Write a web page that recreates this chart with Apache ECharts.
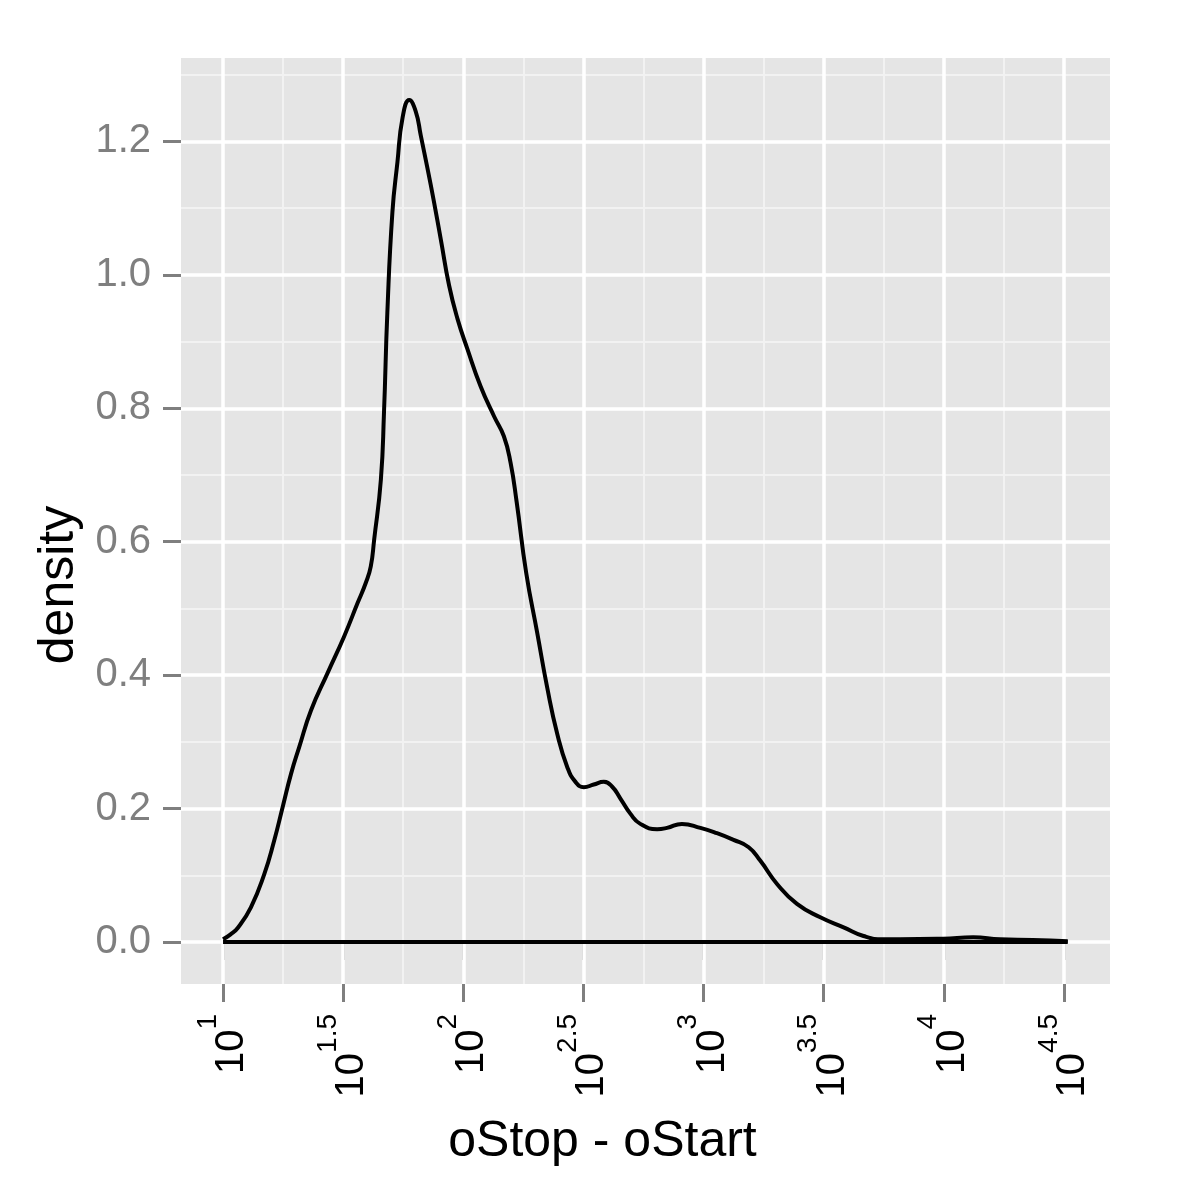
<!DOCTYPE html>
<html>
<head>
<meta charset="utf-8">
<title>density of oStop - oStart</title>
<script src="https://cdn.jsdelivr.net/npm/echarts@6/dist/echarts.min.js"></script>
<style>
  html, body { margin: 0; padding: 0; background: #fff; }
  #chart { width: 1200px; height: 1200px; }
</style>
</head>
<body>
<div id="chart"></div>
<script>
// log10(oStop - oStart) and the density
const logLength = [
  1.000, 1.030, 1.061, 1.116, 1.172, 1.213, 1.248, 1.283, 1.317, 1.366,
  1.435, 1.504, 1.560, 1.594, 1.615, 1.629, 1.657, 1.670, 1.684, 1.705,
  1.726, 1.747, 1.775, 1.802, 1.823, 1.865, 1.906, 1.941, 1.976, 2.017,
  2.072, 2.128, 2.169, 2.197, 2.222, 2.262, 2.308, 2.349, 2.391, 2.433,
  2.467, 2.502, 2.543, 2.585, 2.619, 2.654, 2.696, 2.737, 2.807, 2.848,
  2.910, 2.987, 3.056, 3.125, 3.188, 3.236, 3.306, 3.389, 3.486, 3.583,
  3.666, 3.748, 3.818, 3.998, 4.123, 4.234, 4.371, 4.516
]
const density = [
  0.004, 0.011, 0.021, 0.052, 0.102, 0.152, 0.202, 0.252, 0.292, 0.347,
  0.403, 0.458, 0.508, 0.538, 0.563, 0.603, 0.693, 0.794, 0.944, 1.094,
  1.169, 1.235, 1.262, 1.245, 1.209, 1.134, 1.054, 0.984, 0.934, 0.889,
  0.833, 0.788, 0.758, 0.718, 0.660, 0.553, 0.463, 0.382, 0.312, 0.262,
  0.240, 0.232, 0.236, 0.240, 0.233, 0.215, 0.192, 0.177, 0.169, 0.171,
  0.177, 0.171, 0.163, 0.153, 0.142, 0.122, 0.087, 0.057, 0.037, 0.022,
  0.009, 0.004, 0.004, 0.005, 0.007, 0.004, 0.003, 0.001
]

// tick positions and labels
const xTicks = [1, 1.5, 2, 2.5, 3, 3.5, 4, 4.5]
const xTickExponents = ['1', '1.5', '2', '2.5', '3', '3.5', '4', '4.5']
const xMinorLines = [1.25, 1.75, 2.25, 2.75, 3.25, 3.75, 4.25]
const yTicks = [0, 0.2, 0.4, 0.6, 0.8, 1.0, 1.2]
const yMinorLines = [0.1, 0.3, 0.5, 0.7, 0.9, 1.1, 1.3]

const FONT = '"Liberation Sans", Arial, Helvetica, sans-serif'
const X_MIN = 0.825
const X_MAX = 4.692

const curveData = logLength.map((x, i) => [x, density[i]])
const baseData = [[logLength[0], 0], [logLength[logLength.length - 1], 0]]

const minorStyle = { type: 'solid', color: '#F2F2F2', width: 2 }
const majorStyle = { type: 'solid', color: '#FFFFFF', width: 3.5 }
const gridLines = [
  ...xMinorLines.map(v => ({ xAxis: v, lineStyle: minorStyle })),
  ...yMinorLines.map(v => ({ yAxis: v, lineStyle: minorStyle })),
  ...xTicks.map(v => ({ xAxis: v, lineStyle: majorStyle })),
  ...yTicks.map(v => ({ yAxis: v, lineStyle: majorStyle }))
]

const chart = echarts.init(document.getElementById('chart'), null, { renderer: 'canvas' })

chart.setOption({
  animation: false,
  backgroundColor: '#FFFFFF',
  grid: {
    left: 181,
    top: 58,
    width: 929,
    height: 926,
    show: true,
    backgroundColor: '#E5E5E5',
    borderWidth: 0
  },
  xAxis: [
    {
      type: 'value',
      min: X_MIN,
      max: X_MAX,
      name: 'oStop - oStart',
      nameLocation: 'middle',
      nameGap: 133,
      nameTextStyle: { fontFamily: FONT, fontSize: 50, color: '#000', padding: [0, 86, 0, 0] },
      axisLine: { show: false },
      splitLine: { show: false },
      axisTick: {
        show: true,
        customValues: xTicks,
        length: 18,
        lineStyle: { color: '#7F7F7F', width: 3 }
      },
      axisLabel: {
        customValues: xTicks,
        rotate: 90,
        margin: 30,
        formatter: v => {
          const i = xTicks.findIndex(t => Math.abs(t - v) < 1e-6)
          return '{b|10}{s|' + xTickExponents[i] + '}'
        },
        rich: {
          b: { fontFamily: FONT, fontSize: 40, color: '#000', lineHeight: 58, verticalAlign: 'bottom' },
          s: { fontFamily: FONT, fontSize: 28, color: '#000', lineHeight: 28, verticalAlign: 'top' }
        }
      }
    },
    {
      // tick marks only, on the same scale
      type: 'value',
      position: 'bottom',
      min: X_MIN,
      max: X_MAX,
      axisLine: { show: false },
      splitLine: { show: false },
      axisLabel: { show: false },
      axisTick: {
        show: true,
        inside: false,
        customValues: xTicks,
        length: 18,
        lineStyle: { color: '#7F7F7F', width: 3 }
      }
    }
  ],
  yAxis: {
    type: 'value',
    min: -0.063,
    max: 1.325,
    name: 'density',
    nameLocation: 'middle',
    nameGap: 88,
    nameRotate: 90,
    nameTextStyle: { fontFamily: FONT, fontSize: 50, color: '#000', padding: [0, 128, 0, 0] },
    axisLine: { show: false },
    splitLine: { show: false },
    axisTick: {
      show: true,
      customValues: yTicks,
      length: 18,
      lineStyle: { color: '#7F7F7F', width: 3 }
    },
    axisLabel: {
      customValues: yTicks,
      margin: 30,
      fontFamily: FONT,
      fontSize: 40,
      color: '#7F7F7F',
      formatter: v => v.toFixed(1)
    }
  },
  series: [
    {
      // background grid lines drawn through the axes' scales
      type: 'line',
      data: [],
      z: 1,
      silent: true,
      markLine: {
        silent: true,
        symbol: 'none',
        label: { show: false },
        emphasis: { disabled: true },
        data: gridLines
      }
    },
    {
      name: 'density',
      type: 'line',
      data: curveData,
      z: 5,
      smooth: true,
      showSymbol: false,
      lineStyle: { color: '#000', width: 4 }
    },
    {
      name: 'baseline',
      type: 'line',
      data: baseData,
      z: 5,
      showSymbol: false,
      lineStyle: { color: '#000', width: 4 }
    }
  ]
})
</script>
</body>
</html>
